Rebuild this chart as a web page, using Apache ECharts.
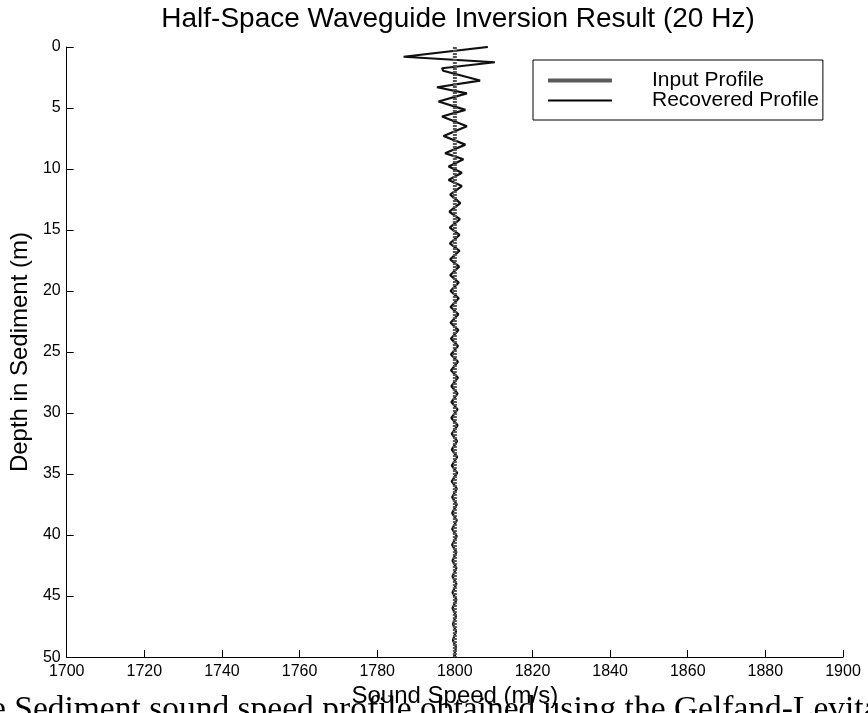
<!DOCTYPE html>
<html>
<head>
<meta charset="utf-8">
<script src="https://cdn.jsdelivr.net/npm/echarts@6/dist/echarts.min.js"></script>
<style>html,body{margin:0;padding:0;background:#fff}#c{width:868px;height:713px}</style>
</head>
<body>
<div id="c"></div>
<script>
var titleText = 'Half-Space Waveguide Inversion Result (20 Hz)';
var xName = 'Sound Speed (m/s)';
var yName = 'Depth in Sediment (m)';
var captionText = 'e Sediment sound speed profile obtained using the Gelfand-Levitan';
var seriesNames = ['Input Profile', 'Recovered Profile'];

var inputDepth = [0, 50];
var inputSpeed = [1800, 1800];

var recDepth = [0.0, 0.1, 0.8, 1.25, 1.74, 1.95, 2.75, 3.3, 3.8, 4.47, 5.15, 5.7, 6.5, 7.3, 8.0, 8.7, 9.2, 9.8, 10.3, 10.9, 11.4, 12.1, 12.8,
  13.5, 14.1, 14.8, 15.4, 16.1, 16.7, 17.4, 18.0, 18.7, 19.3, 20.0, 20.6, 21.3, 21.9, 22.6, 23.2, 23.9, 24.5, 25.2, 25.8, 26.5, 27.1,
  27.8, 28.4, 29.1, 29.7, 30.4, 31.0, 31.7, 32.3, 33.0, 33.6, 34.3, 34.9, 35.6, 36.2, 36.9, 37.5, 38.2, 38.8, 39.5, 40.1, 40.8, 41.4,
  42.1, 42.7, 43.4, 44.0, 44.7, 45.3, 46.0, 46.6, 47.3, 47.9, 48.6, 49.2, 49.9];
var recSpeed = [1808.5, 1809.0, 1786.8, 1810.3, 1796.7, 1797.0, 1806.5, 1795.4, 1803.1, 1795.8, 1802.7, 1796.7, 1803.1, 1797.1, 1802.7, 1797.5, 1802.2, 1798.4, 1801.8, 1798.4, 1801.8, 1798.8, 1801.4,
  1798.6, 1801.3, 1798.7, 1801.2, 1798.7, 1801.2, 1798.8, 1801.1, 1798.8, 1801.0, 1798.9, 1801.0, 1798.9, 1800.9, 1798.9, 1800.9, 1799.0, 1800.8, 1799.0, 1800.8, 1799.0, 1800.8,
  1799.1, 1800.7, 1799.1, 1800.7, 1799.1, 1800.7, 1799.2, 1800.6, 1799.2, 1800.6, 1799.2, 1800.6, 1799.2, 1800.5, 1799.3, 1800.5, 1799.3, 1800.5, 1799.3, 1800.5, 1799.3, 1800.4,
  1799.4, 1800.4, 1799.4, 1800.4, 1799.4, 1800.4, 1799.4, 1800.3, 1799.5, 1800.3, 1799.5, 1800.3, 1799.8];

function pairs(xs, ys) { var o = []; for (var i = 0; i < xs.length; i++) o.push([xs[i], ys[i]]); return o; }

var font = 'Liberation Sans, Arial, Helvetica, sans-serif';
var iconInput = 'path://M0,0L0.01,0L0.01,0.01Z M0,5L64,5L64,9L0,9Z M0,14L0.01,14L0.01,14.01Z';
var iconRec = 'path://M0,0L0.01,0L0.01,0.01Z M0,6L64,6L64,8L0,8Z M0,14L0.01,14L0.01,14.01Z';

var chart = echarts.init(document.getElementById('c'), null, {renderer: 'canvas'});
chart.setOption({
  backgroundColor: '#fff',
  animation: false,
  title: {
    text: titleText, left: 453, top: 0, textAlign: 'center',
    textStyle: {fontFamily: font, fontSize: 28, fontWeight: 'normal', color: '#000'}
  },
  grid: {left: 64, right: 25, top: 47, bottom: 54, containLabel: false},
  legend: {
    left: 533, top: 60, orient: 'vertical',
    data: [
      {name: seriesNames[0], icon: iconInput, itemStyle: {color: '#5a5a5a', borderWidth: 0}},
      {name: seriesNames[1], icon: iconRec, itemStyle: {color: '#000', borderWidth: 0}}
    ],
    itemWidth: 64, itemHeight: 14, itemGap: -1,
    padding: [10, 4, 9, 15],
    borderColor: '#000', borderWidth: 1, backgroundColor: '#fff',
    textStyle: {fontFamily: font, fontSize: 21, color: '#000', padding: [0, 0, 0, 35]}
  },
  xAxis: {
    type: 'value', min: 1700, max: 1900, interval: 20,
    name: xName, nameLocation: 'middle', nameGap: 26,
    nameTextStyle: {fontFamily: font, fontSize: 24, color: '#000'},
    axisLine: {show: true, onZero: false, lineStyle: {color: '#000', width: 1}},
    axisTick: {show: true, inside: true, length: 7, lineStyle: {color: '#000'}},
    axisLabel: {fontFamily: font, fontSize: 16, color: '#000', margin: 6, formatter: function (v) { return String(v); }},
    splitLine: {show: false}
  },
  yAxis: {
    type: 'value', min: 0, max: 50, interval: 5, inverse: true,
    name: yName, nameLocation: 'middle', nameGap: 29,
    nameTextStyle: {fontFamily: font, fontSize: 24, color: '#000'},
    axisLine: {show: true, onZero: false, lineStyle: {color: '#000', width: 1}},
    axisTick: {show: true, inside: true, length: 7, lineStyle: {color: '#000'}},
    axisLabel: {fontFamily: font, fontSize: 16, color: '#000', margin: 6, formatter: function (v) { return String(v); }},
    splitLine: {show: false}
  },
  series: [
    {
      name: seriesNames[1], type: 'line', symbol: 'none', data: pairs(recSpeed, recDepth),
      lineStyle: {color: '#111', width: 2.2}, itemStyle: {color: '#000'}, z: 2
    },
    {
      name: seriesNames[0], type: 'line', symbol: 'none', data: pairs(inputSpeed, inputDepth),
      lineStyle: {color: '#555', width: 4, type: [2, 1]}, itemStyle: {color: '#5a5a5a'}, z: 3
    }
  ],
  graphic: [{
    type: 'text', left: -9, top: 693,
    style: {text: captionText, font: '33.5px "Liberation Serif", "Times New Roman", serif', fill: '#000'}
  }]
});
</script>
</body>
</html>
